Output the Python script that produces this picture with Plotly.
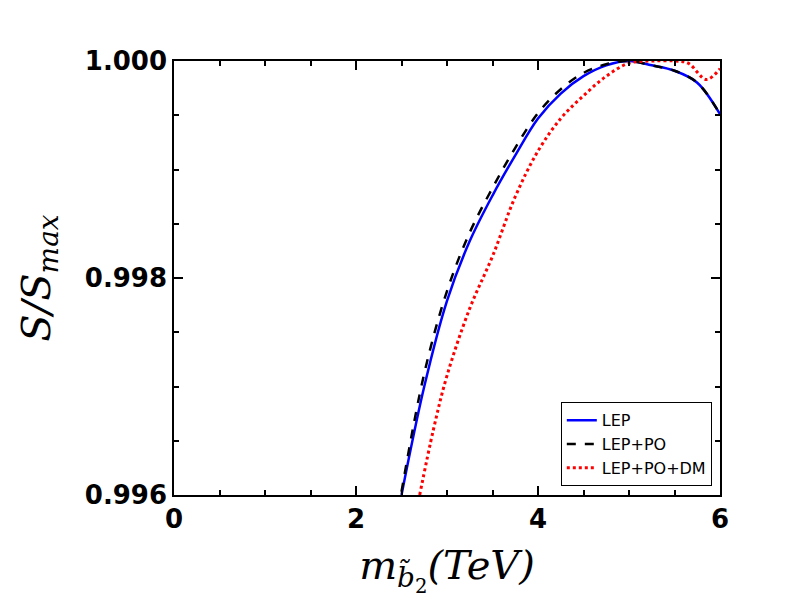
import plotly.graph_objects as go

x_lep = [2.5, 2.75, 3.0, 3.25, 3.5, 3.75, 4.0, 4.25, 4.5, 4.75, 5.0, 5.25, 5.5, 5.75, 6.0]
y_lep = [0.99600, 0.99700, 0.99779, 0.99834, 0.99876, 0.99913, 0.99947, 0.99970, 0.99986, 0.99996, 1.00000, 0.99996, 0.99991, 0.99980, 0.99951]
x_po = [2.5, 2.75, 3.0, 3.25, 3.5, 3.75, 4.0, 4.25, 4.5, 4.75, 5.0, 5.25, 5.5, 5.75, 6.0]
y_po = [0.99603, 0.99712, 0.99788, 0.99842, 0.99883, 0.99920, 0.99952, 0.99974, 0.99989, 0.99997, 1.00000, 0.99996, 0.99991, 0.99980, 0.99951]
x_dm = [2.7, 2.85, 3.0, 3.25, 3.5, 3.75, 4.0, 4.25, 4.5, 4.75, 5.0, 5.25, 5.5, 5.65, 5.85, 6.0]
y_dm = [0.99600, 0.99660, 0.99710, 0.99772, 0.99820, 0.99875, 0.99917, 0.99947, 0.99968, 0.99986, 0.99998, 1.00000, 1.00000, 0.99998, 0.99983, 0.99993]

fig = go.Figure()
fig.add_trace(go.Scatter(x=x_lep, y=y_lep, mode="lines", name="LEP",
                         line=dict(color="blue", width=2.5, shape="spline")))
fig.add_trace(go.Scatter(x=x_po, y=y_po, mode="lines", name="LEP+PO",
                         line=dict(color="black", width=2.5, dash="dash", shape="spline")))
fig.add_trace(go.Scatter(x=x_dm, y=y_dm, mode="lines", name="LEP+PO+DM",
                         line=dict(color="red", width=3, dash="dot", shape="spline")))

axfont = dict(family="DejaVu Sans", size=26, color="black")
common = dict(showgrid=False, zeroline=False, showline=True, linecolor="black", linewidth=1.5,
              mirror="allticks", ticks="inside", ticklen=9, tickwidth=2, tickcolor="black",
              tickfont=axfont, automargin=False)
fig.update_xaxes(range=[0, 6], tickvals=[0, 2, 4, 6], ticktext=["<b>0</b>", "<b>2</b>", "<b>4</b>", "<b>6</b>"],
                 minor=dict(dtick=0.5, ticks="inside", ticklen=5, tickwidth=1.5, tickcolor="black"),
                 title=dict(text="<i>m</i><sub><i>b̃</i><sub>2</sub></sub><i>(TeV)</i>",
                            font=dict(family="DejaVu Serif", size=40, color="black"), standoff=18),
                 **common)
fig.update_yaxes(range=[0.996, 1.000], tickvals=[0.996, 0.998, 1.000],
                 ticktext=["<b>0.996</b>", "<b>0.998</b>", "<b>1.000</b>"],
                 minor=dict(dtick=0.0005, ticks="inside", ticklen=5, tickwidth=1.5, tickcolor="black"),
                 title=dict(text="<i>S/S</i><sub><i>max</i></sub>",
                            font=dict(family="DejaVu Serif", size=40, color="black"), standoff=22),
                 **common)
fig.update_layout(width=800, height=600, plot_bgcolor="white", paper_bgcolor="white",
                  margin=dict(l=166, r=88, t=53, b=113),
                  legend=dict(x=0.985, y=0.02, xanchor="right", yanchor="bottom",
                              bordercolor="black", borderwidth=1, bgcolor="white",
                              font=dict(family="DejaVu Sans", size=16, color="black")))
fig.write_html("out.html")
